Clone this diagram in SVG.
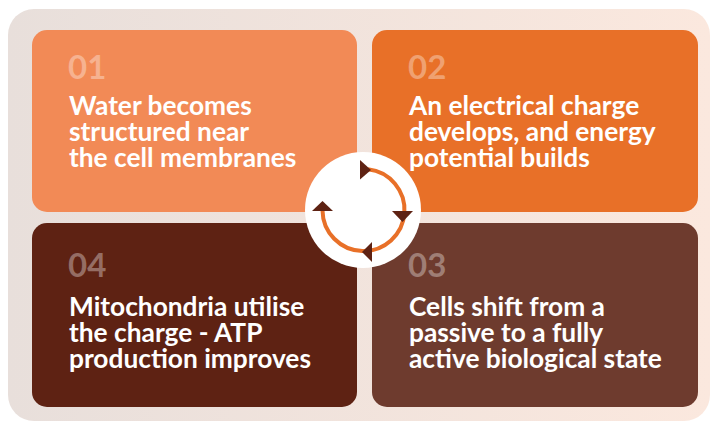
<svg xmlns="http://www.w3.org/2000/svg" width="710" height="421" viewBox="0 0 710 421">
<defs>
<linearGradient id="bg" x1="0" y1="0" x2="1" y2="0">
<stop offset="0" stop-color="#e8dfdb"/>
<stop offset="1" stop-color="#fbe8de"/>
</linearGradient>
<style>
.num{font-family:Lato,"Open Sans",sans-serif;font-weight:700;font-size:33px;fill:#ffffff;fill-opacity:0.35}
.txt{font-family:Lato,"Open Sans",sans-serif;font-weight:700;font-size:26.3px;fill:#ffffff}
.tri{fill:#5e2213}
</style>
</defs>
<rect x="8" y="9" width="702" height="412" rx="26" fill="url(#bg)"/>
<g id="node-01">
<rect x="32" y="30" width="325" height="182" rx="15" fill="#f28a56"/>
<text class="num" x="68" y="79">01</text>
<text class="txt" x="69" y="115">Water becomes</text>
<text class="txt" x="69" y="141">structured near</text>
<text class="txt" x="69" y="167">the cell membranes</text>
</g>
<g id="node-02">
<rect x="372" y="30" width="326" height="182" rx="15" fill="#e87028"/>
<text class="num" x="408" y="79">02</text>
<text class="txt" x="409" y="115">An electrical charge</text>
<text class="txt" x="409" y="141">develops, and energy</text>
<text class="txt" x="409" y="167">potential builds</text>
</g>
<g id="node-04">
<rect x="32" y="223" width="325" height="184" rx="15" fill="#5e2213"/>
<text class="num" x="68" y="277">04</text>
<text class="txt" x="69" y="316">Mitochondria utilise</text>
<text class="txt" x="69" y="342">the charge - ATP</text>
<text class="txt" x="69" y="368">production improves</text>
</g>
<g id="node-03">
<rect x="372" y="223" width="326" height="184" rx="15" fill="#6e3b2e"/>
<text class="num" x="408" y="277">03</text>
<text class="txt" x="409" y="316">Cells shift from a</text>
<text class="txt" x="409" y="342">passive to a fully</text>
<text class="txt" x="409" y="368">active biological state</text>
</g>
<g id="cycle">
<circle cx="363" cy="210" r="58" fill="#ffffff"/>
<g id="connectors">
<path d="M368 169.3 A41 41 0 1 1 322.5 210.5" fill="none" stroke="#e87028" stroke-width="4"/>
<polygon class="tri" points="360,160 371,170 360,179.5"/>
<polygon class="tri" points="392,211 413,211 402.5,222"/>
<polygon class="tri" points="372,242 362,252 372,262"/>
<polygon class="tri" points="312,211 333,211 322.5,201"/>
</g>
</g>
</svg>
